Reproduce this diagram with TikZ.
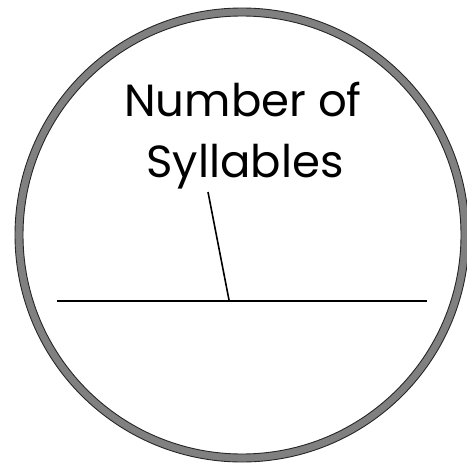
\documentclass[tikz,border=0pt]{standalone}
\usepackage{fontspec}
\setmainfont{Poppins}
\begin{document}
\begin{tikzpicture}[x=1pt,y=-1pt,
  rim/.style={line width=8pt, draw=black!50},
  rimedge/.style={line width=0.9pt, draw=black!85},
  rule/.style={line width=1.6pt, draw=black},
  label/.style={font=\fontsize{45}{60}\selectfont, anchor=base, inner sep=0pt}]
\useasboundingbox (0,0) rectangle (466,468);
\fill[white] (0,0) rectangle (466,468);
\draw[rim] (242,235) circle (223);
\draw[rimedge] (242,235) circle (227);
\draw[rimedge] (242,235) circle (219);
\node[label] (line1) at (243,117) {Number of};
\node[label] (line2) at (245,177) {Syllables};
\coordinate (top) at (208,192);
\coordinate (foot) at (229,300);
\coordinate (left) at (57,301);
\coordinate (right) at (427,301);
\draw[rule] (left) -- (right);
\draw[rule] (top) -- (foot);
\end{tikzpicture}
\end{document}
